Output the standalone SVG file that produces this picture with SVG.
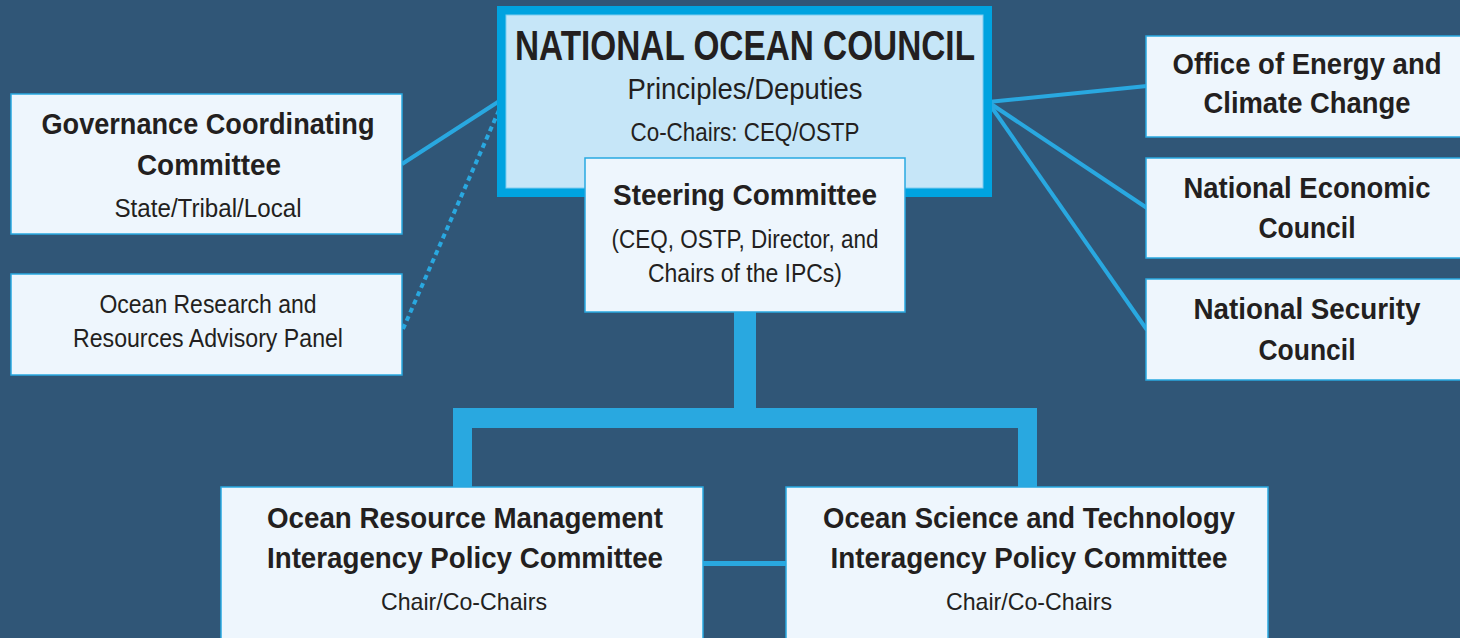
<svg xmlns="http://www.w3.org/2000/svg" width="1460" height="638" viewBox="0 0 1460 638">
<style>
.bg{fill:#305677}
.box{fill:#eef6fd;stroke:#29a9e1;stroke-width:1.5}
.t{font-family:"Liberation Sans",Arial,sans-serif;fill:#231f20;text-anchor:middle}
.b{font-weight:bold}
.ln{stroke:#29a8e0;stroke-width:4;fill:none}
.bar{fill:#29a8e0}
</style>
<rect class="bg" x="0" y="0" width="1460" height="638"/>
<g id="connectors">
  <line class="ln" x1="402" y1="164" x2="501" y2="100"/>
  <line class="ln" x1="403" y1="329" x2="500" y2="108" stroke-width="5" stroke-dasharray="5 4"/>
  <line class="ln" x1="988" y1="102" x2="1147" y2="86"/>
  <line class="ln" x1="988" y1="102" x2="1147" y2="208"/>
  <line class="ln" x1="988" y1="102" x2="1147" y2="330"/>
  <rect class="bar" x="734" y="310" width="22" height="110"/>
  <rect class="bar" x="453" y="408" width="584" height="20"/>
  <rect class="bar" x="453" y="408" width="19" height="82"/>
  <rect class="bar" x="1018" y="408" width="19" height="82"/>
  <rect class="bar" x="700" y="561" width="90" height="5"/>
</g>
<g id="noc">
  <rect x="501.5" y="10.5" width="486" height="182" fill="#c6e6f8" stroke="#00a3e0" stroke-width="9"/>
  <rect x="506" y="15" width="477" height="173" fill="none" stroke="#7fcdf0" stroke-width="1"/>
  <text class="t b" x="745" y="60" font-size="42" textLength="460" lengthAdjust="spacingAndGlyphs">NATIONAL OCEAN COUNCIL</text>
  <text class="t" x="745" y="99" font-size="29" textLength="235" lengthAdjust="spacingAndGlyphs">Principles/Deputies</text>
  <text class="t" x="745" y="141" font-size="25" textLength="229" lengthAdjust="spacingAndGlyphs">Co-Chairs: CEQ/OSTP</text>
</g>
<g id="steering">
  <rect class="box" x="585" y="158" width="320" height="154"/>
  <text class="t b" x="745" y="205" font-size="29" textLength="264" lengthAdjust="spacingAndGlyphs">Steering Committee</text>
  <text class="t" x="745" y="248" font-size="25" textLength="267" lengthAdjust="spacingAndGlyphs">(CEQ, OSTP, Director, and</text>
  <text class="t" x="745" y="282" font-size="25" textLength="194" lengthAdjust="spacingAndGlyphs">Chairs of the IPCs)</text>
</g>
<g id="gcc">
  <rect class="box" x="11" y="94" width="391" height="140"/>
  <text class="t b" x="208" y="134" font-size="29" textLength="333" lengthAdjust="spacingAndGlyphs">Governance Coordinating</text>
  <text class="t b" x="209" y="175" font-size="29" textLength="144" lengthAdjust="spacingAndGlyphs">Committee</text>
  <text class="t" x="208" y="217" font-size="25" textLength="187" lengthAdjust="spacingAndGlyphs">State/Tribal/Local</text>
</g>
<g id="orrap">
  <rect class="box" x="11" y="274" width="391" height="101"/>
  <text class="t" x="208" y="313" font-size="25" textLength="217" lengthAdjust="spacingAndGlyphs">Ocean Research and</text>
  <text class="t" x="208" y="347" font-size="25" textLength="270" lengthAdjust="spacingAndGlyphs">Resources Advisory Panel</text>
</g>
<g id="oecc">
  <rect class="box" x="1146" y="36" width="320" height="101"/>
  <text class="t b" x="1307" y="74" font-size="29" textLength="269" lengthAdjust="spacingAndGlyphs">Office of Energy and</text>
  <text class="t b" x="1307" y="113" font-size="29" textLength="207" lengthAdjust="spacingAndGlyphs">Climate Change</text>
</g>
<g id="nec">
  <rect class="box" x="1146" y="158" width="320" height="100"/>
  <text class="t b" x="1307" y="198" font-size="29" textLength="247" lengthAdjust="spacingAndGlyphs">National Economic</text>
  <text class="t b" x="1307" y="238" font-size="29" textLength="97" lengthAdjust="spacingAndGlyphs">Council</text>
</g>
<g id="nsc">
  <rect class="box" x="1146" y="279" width="320" height="101"/>
  <text class="t b" x="1307" y="319" font-size="29" textLength="227" lengthAdjust="spacingAndGlyphs">National Security</text>
  <text class="t b" x="1307" y="360" font-size="29" textLength="97" lengthAdjust="spacingAndGlyphs">Council</text>
</g>
<g id="ormipc">
  <rect class="box" x="221" y="487" width="482" height="170"/>
  <text class="t b" x="465" y="528" font-size="29" textLength="396" lengthAdjust="spacingAndGlyphs">Ocean Resource Management</text>
  <text class="t b" x="465" y="568" font-size="29" textLength="396" lengthAdjust="spacingAndGlyphs">Interagency Policy Committee</text>
  <text class="t" x="464" y="610" font-size="24" textLength="166" lengthAdjust="spacingAndGlyphs">Chair/Co-Chairs</text>
</g>
<g id="ostipc">
  <rect class="box" x="786" y="487" width="482" height="170"/>
  <text class="t b" x="1029" y="528" font-size="29" textLength="412" lengthAdjust="spacingAndGlyphs">Ocean Science and Technology</text>
  <text class="t b" x="1029" y="568" font-size="29" textLength="397" lengthAdjust="spacingAndGlyphs">Interagency Policy Committee</text>
  <text class="t" x="1029" y="610" font-size="24" textLength="166" lengthAdjust="spacingAndGlyphs">Chair/Co-Chairs</text>
</g>
</svg>
